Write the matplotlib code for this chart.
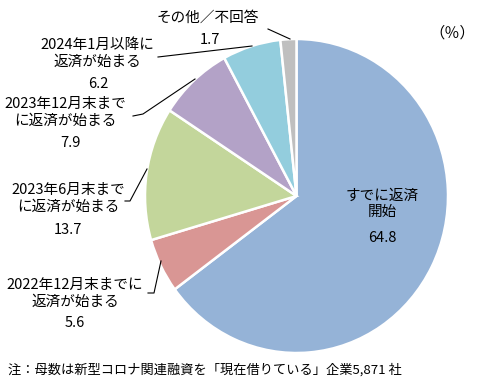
import matplotlib as mpl
import matplotlib.pyplot as plt

mpl.rcParams['font.family'] = ['Noto Sans CJK JP', 'DejaVu Sans']

# data (clockwise from 12 o'clock)
labels = ["すでに返済\n開始", "2022年12月末までに\n返済が始まる", "2023年6月末まで\nに返済が始まる",
          "2023年12月末まで\nに返済が始まる", "2024年1月以降に\n返済が始まる", "その他／不回答"]
values = [64.8, 5.6, 13.7, 7.9, 6.2, 1.7]
colors = ["#95B3D7", "#D99694", "#C3D69B", "#B3A2C7", "#93CDDD", "#BFBFBF"]
note = "注：母数は新型コロナ関連融資を「現在借りている」企業5,871 社"

W, H = 478, 386
# pie center / radii in pixels
CX, CY, RX, RY = 296.5, 196, 151.5, 157


def P(x, y):
    # pixel (from top-left) -> data coords
    return ((x - CX) / RX, (CY - y) / RY)


fig = plt.figure(figsize=(W / 100, H / 100), dpi=100)
ax = fig.add_axes([0, 0, 1, 1])
ax.pie(values, colors=colors, startangle=90, counterclock=False,
       wedgeprops=dict(edgecolor="white", linewidth=1.8))
ax.set_aspect('auto')
ax.set_xlim(P(0, 0)[0], P(W, 0)[0])
ax.set_ylim(P(0, H)[1], P(0, 0)[1])
ax.axis('off')

fs = 10.5
# label text positions (pixel) and leader lines
label_pos = [(382, 204), (75, 293), (68, 198), (65, 112), (97, 53), (208, 18)]
value_pos = [(382, 238), (75, 323), (68, 230), (70, 143), (98, 84), (210, 40)]
leaders = [None,
           [(148, 293), (154, 293), (161, 261)],
           [(125, 201), (130, 201), (147, 169)],
           [(133, 116), (143, 114), (195, 79)],
           [(158, 57), (252, 46)],
           [(268, 29), (290, 39)]]

for lab, v, lp, vp, ld in zip(labels, values, label_pos, value_pos, leaders):
    ax.text(*P(*lp), lab, ha='center', va='center', fontsize=fs, linespacing=1.25)
    ax.text(*P(*vp), f"{v:.1f}", ha='center', va='center', fontsize=fs)
    if ld:
        pts = [P(*p) for p in ld]
        ax.plot([p[0] for p in pts], [p[1] for p in pts], color='black', linewidth=0.8)

ax.text(*P(452, 33), "（％）", ha='center', va='center', fontsize=11)
ax.text(*P(8, 370), note, ha='left', va='center', fontsize=9.5)

fig.savefig("out.png", dpi=100)
